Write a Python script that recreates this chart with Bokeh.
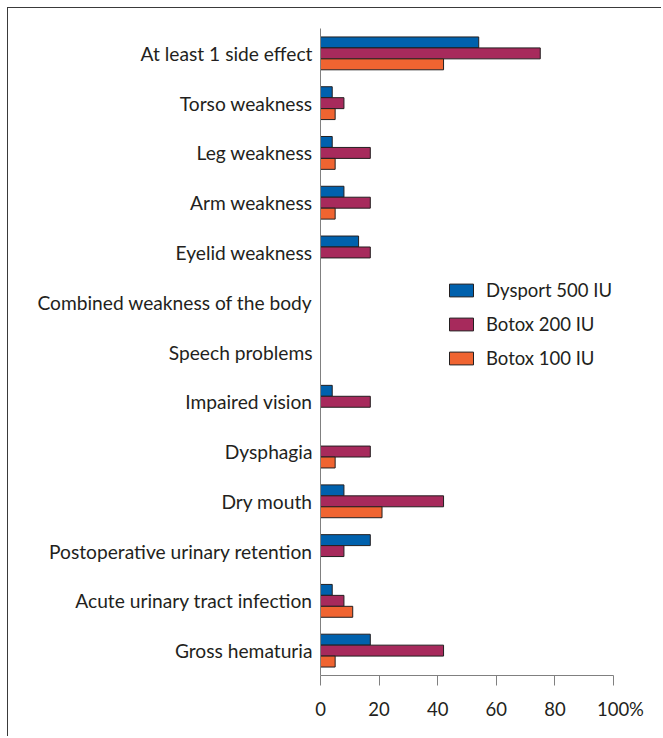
from bokeh.plotting import figure
from bokeh.models import FactorRange, Range1d, FixedTicker, ColumnDataSource, Legend, LegendItem
from bokeh.transform import dodge
from bokeh.embed import file_html
from bokeh.resources import INLINE

categories = ["At least 1 side effect", "Torso weakness", "Leg weakness", "Arm weakness",
              "Eyelid weakness", "Combined weakness of the body", "Speech problems",
              "Impaired vision", "Dysphagia", "Dry mouth", "Postoperative urinary retention",
              "Acute urinary tract infection", "Gross hematuria"]
dysport_500 = [54, 4, 4, 8, 13, 0, 0, 4, 0, 8, 17, 4, 17]
botox_200 = [75, 8, 17, 17, 17, 0, 0, 17, 17, 42, 8, 8, 42]
botox_100 = [42, 5, 5, 5, 0, 0, 0, 0, 5, 21, 0, 11, 5]
series_names = ["Dysport 500 IU", "Botox 200 IU", "Botox 100 IU"]
x_ticks = [0, 20, 40, 60, 80, 100]

colors = ["#0061ad", "#a72a5c", "#f06431"]
offsets = [0.22, 0.0, -0.22]
FONT = "Lato"
TEXT = "#231f20"

p = figure(width=654, height=729, output_backend="svg", toolbar_location=None,
           y_range=FactorRange(factors=list(reversed(categories))),
           x_range=Range1d(0, 100),
           min_border_left=312, min_border_right=49, min_border_top=20, min_border_bottom=62)
p.styles = {"margin-left": "7px", "margin-top": "7px",
            "border-top": "1.5px solid #3a3a3a", "border-left": "1.5px solid #3a3a3a"}
p.outline_line_color = None
p.xgrid.grid_line_color = None
p.ygrid.grid_line_color = None

items = []
for name, vals, col, off in zip(series_names, [dysport_500, botox_200, botox_100], colors, offsets):
    cats = [c for c, v in zip(categories, vals) if v > 0]
    vv = [v for v in vals if v > 0]
    src = ColumnDataSource(dict(cat=cats, val=vv))
    r = p.hbar(y=dodge("cat", off, range=p.y_range), right="val", left=0, height=0.22,
               source=src, fill_color=col, line_color="#231f20", line_width=1)
    items.append(LegendItem(label=name, renderers=[r]))

legend = Legend(items=items, location=(126, 306), border_line_color=None,
                background_fill_alpha=0, padding=0, margin=0, spacing=12,
                glyph_width=30, glyph_height=16, label_standoff=10,
                label_text_font=FONT, label_text_font_size="18.5px", label_text_color=TEXT,
                label_height=16)
p.add_layout(legend, "center")

p.xaxis.ticker = FixedTicker(ticks=x_ticks)
p.xaxis.major_label_overrides = {100: "\u2003100%"}
p.xaxis.minor_tick_line_color = None
p.xaxis.major_tick_out = 10
p.xaxis.major_tick_in = 0
p.xaxis.axis_line_color = "#808080"
p.xaxis.major_tick_line_color = "#808080"
p.xaxis.major_label_standoff = 12
p.xaxis.major_label_text_font = FONT
p.xaxis.major_label_text_font_size = "18.5px"
p.xaxis.major_label_text_color = TEXT

p.yaxis.major_tick_line_color = None
p.yaxis.minor_tick_line_color = None
p.yaxis.axis_line_color = "#808080"
p.yaxis.major_label_standoff = 2
p.yaxis.major_label_text_font = FONT
p.yaxis.major_label_text_font_size = "19.2px"
p.yaxis.major_label_text_color = TEXT

open("out.html", "w").write(file_html(p, INLINE))
